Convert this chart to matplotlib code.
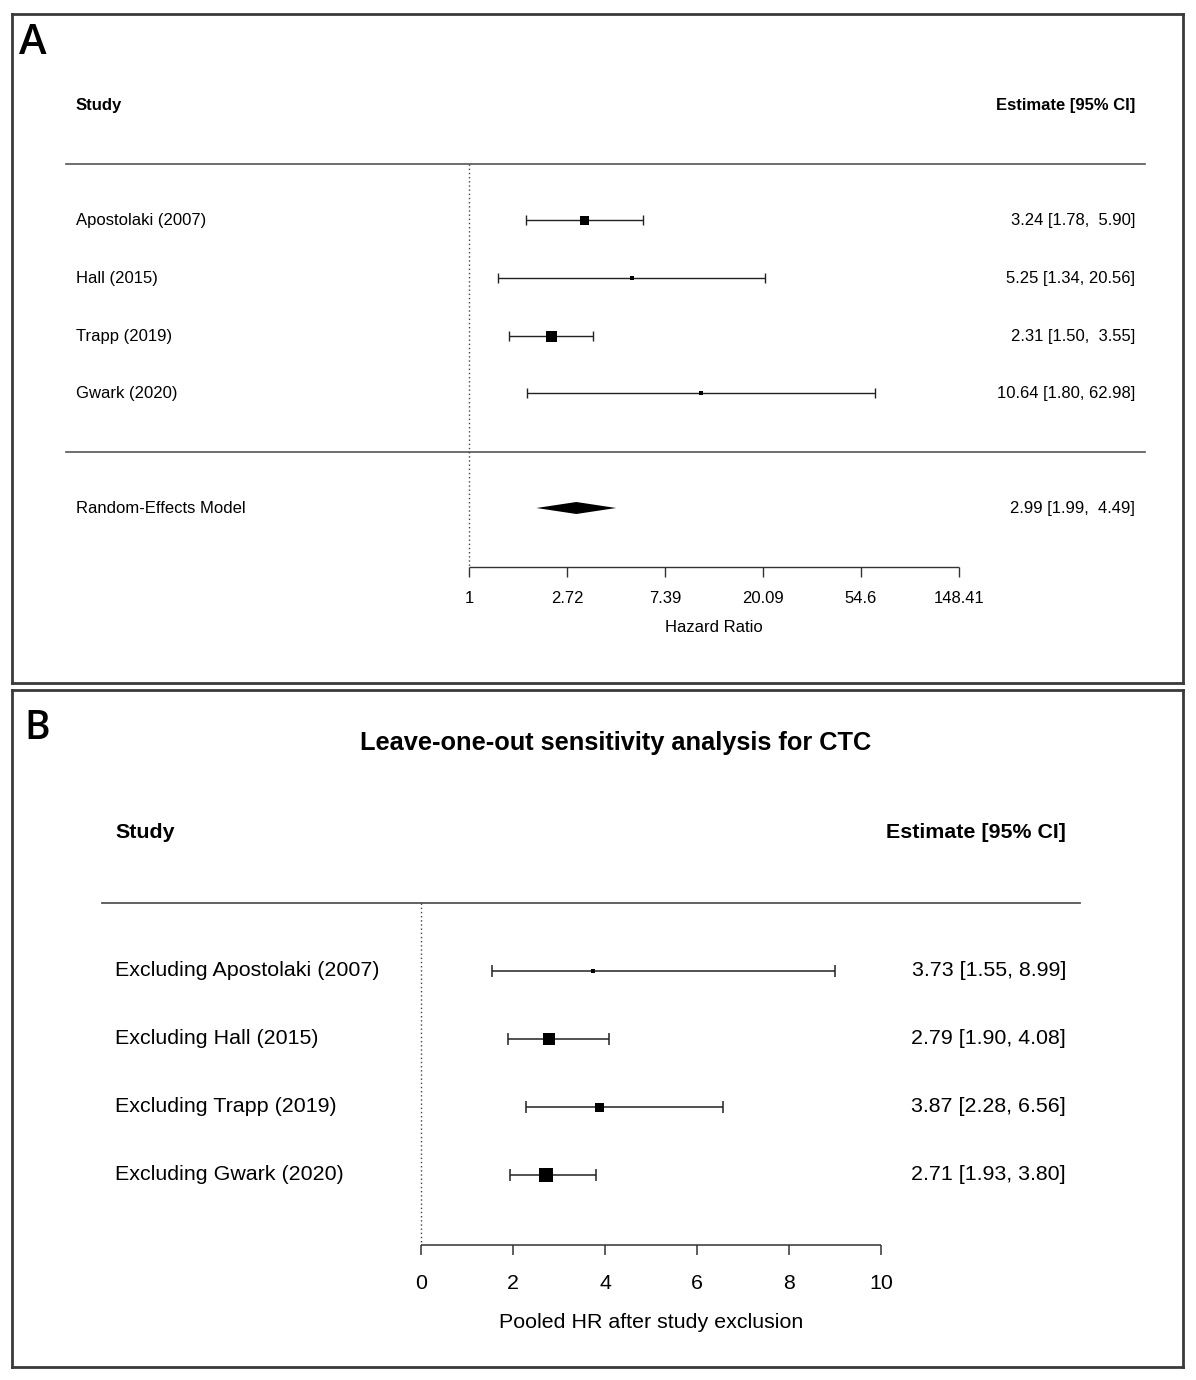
import numpy as np
import matplotlib
matplotlib.use("Agg")
import matplotlib.pyplot as plt
from matplotlib.transforms import blended_transform_factory
from matplotlib.ticker import NullLocator

# ---------------- data ----------------
studies_a = ["Apostolaki (2007)", "Hall (2015)", "Trapp (2019)", "Gwark (2020)"]
hr_a = [3.24, 5.25, 2.31, 10.64]
lo_a = [1.78, 1.34, 1.50, 1.80]
hi_a = [5.90, 20.56, 3.55, 62.98]
size_a = [9, 5, 11, 4]          # relative weight marker size (px)
re_est, re_lo, re_hi = 2.99, 1.99, 4.49
ticks_a = [1, 2.72, 7.39, 20.09, 54.6, 148.41]
tick_labels_a = ["1", "2.72", "7.39", "20.09", "54.6", "148.41"]

studies_b = ["Excluding Apostolaki (2007)", "Excluding Hall (2015)",
             "Excluding Trapp (2019)", "Excluding Gwark (2020)"]
hr_b = [3.73, 2.79, 3.87, 2.71]
lo_b = [1.55, 1.90, 2.28, 1.93]
hi_b = [8.99, 4.08, 6.56, 3.80]
size_b = [5, 12, 9, 14]
ticks_b = [0, 2, 4, 6, 8, 10]

FONT = "Liberation Sans"
LETTER_FONT = ["Open Sans", "Noto Sans", "DejaVu Sans"]
W, H = 1196, 1380
fig = plt.figure(figsize=(W / 100, H / 100), dpi=100)
fig.patch.set_facecolor("white")


def panel_axes(x0, y0, x1, y1, log=False):
    ax = fig.add_axes([x0 / W, 1 - y1 / H, (x1 - x0) / W, (y1 - y0) / H])
    if log:
        ax.set_xscale("log")
    ax.set_ylim(y1, y0)
    for s in ax.spines.values():
        s.set_linewidth(2.0)
        s.set_color("#3a3a3a")
    ax.xaxis.set_major_locator(NullLocator())
    ax.xaxis.set_minor_locator(NullLocator())
    ax.yaxis.set_major_locator(NullLocator())
    ax.yaxis.set_minor_locator(NullLocator())
    return ax


def fmt_a(e, l, h):
    return f"{e:.2f} [{l:.2f}, {h:5.2f}]"


def fmt_b(e, l, h):
    return f"{e:.2f} [{l:.2f}, {h:.2f}]"


# ================= Panel A =================
AX0, AY0, AX1, AY1 = 12, 14, 1183, 683
x0px, pxu = 469, 98.0  # pixel of HR=1 and pixels per ln unit
axA = panel_axes(AX0, AY0, AX1, AY1, log=True)
axA.set_xlim(np.exp((AX0 - x0px) / pxu), np.exp((AX1 - x0px) / pxu))
trA = blended_transform_factory(axA.transAxes, axA.transData)
fA = lambda px: (px - AX0) / (AX1 - AX0)
FSA = 12

axA.text(fA(33), 43, "A", transform=trA, fontsize=30, family=LETTER_FONT,
         ha="center", va="center", fontweight="semibold")
axA.text(fA(76), 105, "Study", transform=trA, fontsize=FSA, family=FONT,
         fontweight="bold", ha="left", va="center")
axA.text(fA(1135), 105, "Estimate [95% CI]", transform=trA, fontsize=FSA,
         family=FONT, fontweight="bold", ha="right", va="center")
axA.plot([fA(66), fA(1145)], [164, 164], transform=trA, color="#555555", lw=1.2)
axA.plot([fA(66), fA(1145)], [452, 452], transform=trA, color="#555555", lw=1.2)

rows_a = [220, 278, 336, 393]
for name, e, l, h, s, y in zip(studies_a, hr_a, lo_a, hi_a, size_a, rows_a):
    axA.errorbar([e], [y], xerr=[[e - l], [h - e]], fmt="none", ecolor="#222222",
                 elinewidth=1.0, capsize=3.5, capthick=1.0)
    axA.plot([e], [y], marker="s", ms=s * 0.72, color="black", mec="black", mew=0)
    axA.text(fA(76), y, name, transform=trA, fontsize=FSA, family=FONT,
             ha="left", va="center")
    axA.text(fA(1135), y, fmt_a(e, l, h), transform=trA, fontsize=FSA, family=FONT,
             ha="right", va="center")

yre = 508
axA.fill([re_lo, re_est, re_hi, re_est], [yre, yre - 6, yre, yre + 6],
         color="black", lw=0)
axA.text(fA(76), yre, "Random-Effects Model", transform=trA, fontsize=FSA,
         family=FONT, ha="left", va="center")
axA.text(fA(1135), yre, fmt_a(re_est, re_lo, re_hi), transform=trA, fontsize=FSA,
         family=FONT, ha="right", va="center")

axA.vlines(1, 164, 567, colors="#444444", linestyles=(0, (1, 2)), lw=1.0)
axis_y = 567
axA.hlines(axis_y, ticks_a[0], ticks_a[-1], colors="#333333", lw=1.0)
for t, lab in zip(ticks_a, tick_labels_a):
    axA.vlines(t, axis_y, axis_y + 10, colors="#333333", lw=1.0)
    axA.text(t, 598, lab, fontsize=FSA, family=FONT, ha="center", va="center")
axA.text(np.exp((714 - x0px) / pxu), 627, "Hazard Ratio", fontsize=FSA,
         family=FONT, ha="center", va="center")

# ================= Panel B =================
BX0, BY0, BX1, BY1 = 12, 690, 1183, 1367
b0px, bpu = 421, 46.0
axB = panel_axes(BX0, BY0, BX1, BY1)
axB.set_xlim((BX0 - b0px) / bpu, (BX1 - b0px) / bpu)
trB = blended_transform_factory(axB.transAxes, axB.transData)
fB = lambda px: (px - BX0) / (BX1 - BX0)
FSB = 15.4

axB.text(fB(37), 729, "B", transform=trB, fontsize=28, family=LETTER_FONT,
         ha="center", va="center", fontweight="semibold")
axB.text(fB(616), 743, "Leave-one-out sensitivity analysis for CTC", transform=trB,
         fontsize=18.3, family=FONT, fontweight="bold", ha="center", va="center")
axB.text(fB(115), 833, "Study", transform=trB, fontsize=FSB, family=FONT,
         fontweight="bold", ha="left", va="center")
axB.text(fB(1066), 833, "Estimate [95% CI]", transform=trB, fontsize=FSB,
         family=FONT, fontweight="bold", ha="right", va="center")
axB.plot([fB(102), fB(1080)], [903, 903], transform=trB, color="#555555", lw=1.3)

rows_b = [971, 1039, 1107, 1175]
for name, e, l, h, s, y in zip(studies_b, hr_b, lo_b, hi_b, size_b, rows_b):
    axB.errorbar([e], [y], xerr=[[e - l], [h - e]], fmt="none", ecolor="#222222",
                 elinewidth=1.1, capsize=4.5, capthick=1.1)
    axB.plot([e], [y], marker="s", ms=s * 0.72, color="black", mec="black", mew=0)
    axB.text(fB(115), y, name, transform=trB, fontsize=FSB, family=FONT,
             ha="left", va="center")
    axB.text(fB(1066), y, fmt_b(e, l, h), transform=trB, fontsize=FSB, family=FONT,
             ha="right", va="center")

axB.vlines(0, 903, 1245, colors="#444444", linestyles=(0, (1, 2)), lw=1.0)
axis_yb = 1245
axB.hlines(axis_yb, ticks_b[0], ticks_b[-1], colors="#333333", lw=1.1)
for t in ticks_b:
    axB.vlines(t, axis_yb, axis_yb + 10, colors="#333333", lw=1.1)
    axB.text(t, 1284, str(t), fontsize=FSB, family=FONT, ha="center", va="center")
axB.text(5, 1323, "Pooled HR after study exclusion", fontsize=FSB, family=FONT,
         ha="center", va="center")

fig.savefig("out.png", dpi=100, facecolor="white")
